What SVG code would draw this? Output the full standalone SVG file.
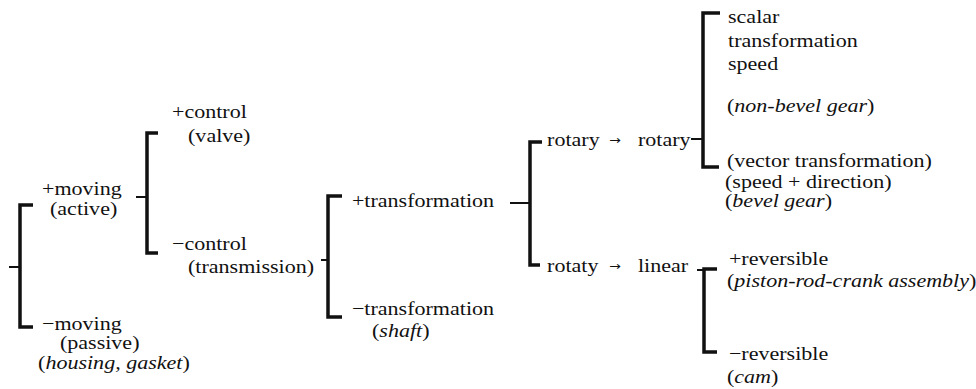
<svg xmlns="http://www.w3.org/2000/svg" width="976" height="389" viewBox="0 0 976 389">
<style>
text{font-family:"Liberation Serif","Times New Roman",serif;font-size:19px;fill:#111}
.i{font-style:italic}
.ar{font-family:"DejaVu Sans",sans-serif;font-size:12px}
.br{fill:none;stroke:#111;stroke-width:3.5;stroke-linejoin:miter}
.st{fill:none;stroke:#111;stroke-width:2}
</style>
<rect width="976" height="389" fill="#fff"/>
<g id="connectors">
<path class="br" d="M33,205 H20 V327 H33"/><path class="st" d="M9,267 H20"/>
<path class="br" d="M158,133 H147 V253 H158"/><path class="st" d="M136,197 H147"/>
<path class="br" d="M342,196 H328 V317 H342"/><path class="st" d="M321,260 H328"/>
<path class="br" d="M542,142 H530 V265 H540"/><path class="st" d="M510,203 H530"/>
<path class="br" d="M720,13 H703 V167 H719"/><path class="st" d="M691,139 H703"/>
<path class="br" d="M717,269 H704 V352 H717"/><path class="st" d="M697,270 H704"/>
</g>
<g transform="scale(1.16 1)">
<g id="moving-plus"><text x="36.2" y="195">+moving</text><text x="43.1" y="215">(active)</text></g>
<g id="moving-minus"><text x="36.2" y="330">−moving</text><text x="51.7" y="349">(passive)</text><text x="32.8" y="369">(<tspan class="i">housing, gasket</tspan>)</text></g>
<g id="control-plus"><text x="148.3" y="118">+control</text><text x="162.1" y="142">(valve)</text></g>
<g id="control-minus"><text x="148.3" y="250">−control</text><text x="162.1" y="273">(transmission)</text></g>
<g id="transformation-plus"><text x="303.4" y="207">+transformation</text></g>
<g id="transformation-minus"><text x="303.4" y="315">−transformation</text><text x="320.7" y="337">(<tspan class="i">shaft</tspan>)</text></g>
<g id="rotary-rotary"><text x="471.6" y="146">rotary<tspan class="ar" x="525" dy="-2">→</tspan><tspan x="550" dy="2">rotary</tspan></text></g>
<g id="rotary-linear"><text x="471.6" y="272">rotaty<tspan class="ar" x="525" dy="-2">→</tspan><tspan x="550" dy="2">linear</tspan></text></g>
<g id="scalar"><text x="627.6" y="23">scalar</text><text x="627.6" y="47">transformation</text><text x="627.6" y="70">speed</text><text x="626.7" y="112">(<tspan class="i">non-bevel gear</tspan>)</text></g>
<g id="vector"><text x="626.7" y="167">(vector transformation)</text><text x="625" y="188">(speed + direction)</text><text x="625" y="207">(<tspan class="i">bevel gear</tspan>)</text></g>
<g id="reversible-plus"><text x="628.4" y="265">+reversible</text><text x="626.7" y="287">(<tspan class="i">piston-rod-crank assembly</tspan>)</text></g>
<g id="reversible-minus"><text x="628.4" y="360">−reversible</text><text x="626.7" y="383">(<tspan class="i">cam</tspan>)</text></g>
</g>
</svg>
